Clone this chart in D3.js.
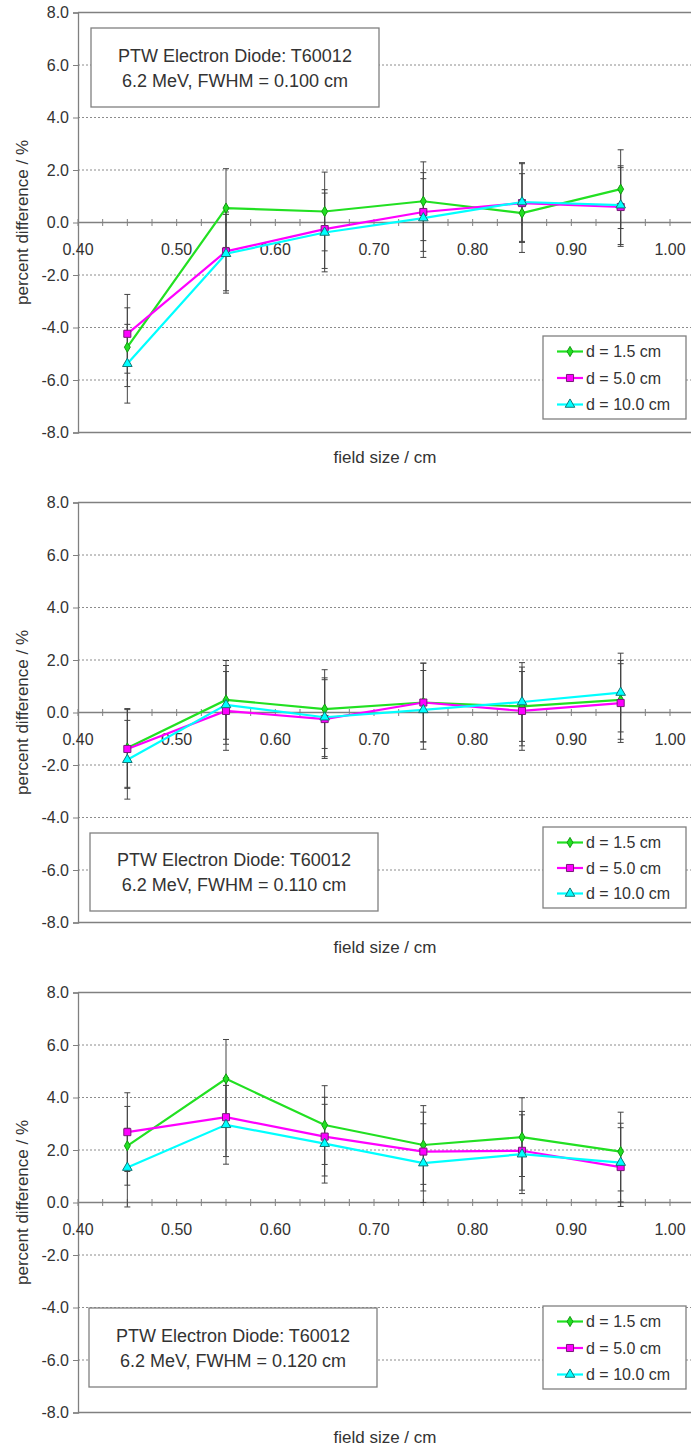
<!DOCTYPE html>
<html>
<head>
<meta charset="utf-8">
<script src="https://cdn.jsdelivr.net/npm/d3@7"></script>
<style>
  body { margin: 0; background: #fff; }
  svg { display: block; font-family: "Liberation Sans", Arial, sans-serif; }
</style>
</head>
<body>
<div id="chart"></div>
<script>
// field sizes (x) shared by every panel
var fieldSizes = [0.45, 0.55, 0.65, 0.75, 0.85, 0.95];
var xTickLabels = [0.40, 0.50, 0.60, 0.70, 0.80, 0.90, 1.00];
var yTickLabels = [-8, -6, -4, -2, 0, 2, 4, 6, 8];
var seriesNames = ["d = 1.5 cm", "d = 5.0 cm", "d = 10.0 cm"];
var fwhmValues = ["0.100", "0.110", "0.120"];

// panel 1 : FWHM = 0.100 cm
var p1_d15 = [-4.75, 0.55, 0.42, 0.81, 0.36, 1.27];
var p1_d50 = [-4.24, -1.10, -0.25, 0.40, 0.74, 0.59];
var p1_d100 = [-5.38, -1.19, -0.38, 0.17, 0.78, 0.66];
// panel 2 : FWHM = 0.110 cm
var p2_d15 = [-1.35, 0.48, 0.13, 0.38, 0.23, 0.48];
var p2_d50 = [-1.39, 0.06, -0.25, 0.38, 0.06, 0.36];
var p2_d100 = [-1.80, 0.29, -0.18, 0.10, 0.40, 0.76];
// panel 3 : FWHM = 0.120 cm
var p3_d15 = [2.16, 4.71, 2.95, 2.19, 2.49, 1.94];
var p3_d50 = [2.68, 3.25, 2.51, 1.94, 1.97, 1.35];
var p3_d100 = [1.33, 2.96, 2.24, 1.50, 1.84, 1.52];
// error bar half widths (same read for every point)
var errD15 = [1.5, 1.5, 1.5, 1.5, 1.5, 1.5];
var errD50 = [1.5, 1.5, 1.5, 1.5, 1.5, 1.5];
var errD100 = [1.5, 1.5, 1.5, 1.5, 1.5, 1.5];

var panelValues = [
    [p1_d15, p1_d50, p1_d100],
    [p2_d15, p2_d50, p2_d100],
    [p3_d15, p3_d50, p3_d100]
];
var panelErrors = [errD15, errD50, errD100];

// look of each series
var seriesStyle = [
    {line: "#22e022", fill: "#22e022", stroke: "#119911", shape: d3.symbolDiamond, size: 30},
    {line: "#ff00ff", fill: "#ff00ff", stroke: "#7a1a7a", shape: d3.symbolSquare, size: 50},
    {line: "#00ffff", fill: "#00ffff", stroke: "#117777", shape: d3.symbolTriangle, size: 40}
];

// where the note box and the legend sit in each panel (panel-local px)
var panelLayout = [
    {note: {x: 91, y: 28, w: 288, h: 79}, legend: {x: 543, y: 336, w: 143, h: 83}},
    {note: {x: 90, y: 343, w: 288, h: 78}, legend: {x: 543, y: 337, w: 143, h: 81}},
    {note: {x: 89, y: 328, w: 288, h: 79}, legend: {x: 543, y: 326, w: 143, h: 83}}
];

var W = 691, H = 1447, panelStep = 490;
var plotLeft = 78, plotTop = 12.5, plotBottom = 432.5;
var textColor = "#333", axisColor = "#808080";

var svg = d3.select("#chart").append("svg")
    .attr("width", W).attr("height", H);

var x = d3.scaleLinear().domain([0.4, 1.0]).range([plotLeft, 670]);
var y = d3.scaleLinear().domain([-8, 8]).range([plotBottom, plotTop]);

panelValues.forEach(function(series, pi)
{
    var g = svg.append("g").attr("transform", "translate(0," + (pi * panelStep) + ")");
    var lay = panelLayout[pi];

    // dotted grid lines
    g.append("g").selectAll("line")
        .data([-6, -4, -2, 2, 4, 6])
        .enter().append("line")
        .attr("x1", plotLeft).attr("x2", W)
        .attr("y1", function(d) { return y(d); })
        .attr("y2", function(d) { return y(d); })
        .attr("stroke", "#8c8c8c")
        .attr("stroke-width", 1)
        .attr("stroke-dasharray", "2,2");

    // frame: top and bottom
    g.append("line").attr("x1", plotLeft).attr("x2", W).attr("y1", y(8)).attr("y2", y(8))
        .attr("stroke", axisColor).attr("stroke-width", 1.3);
    g.append("line").attr("x1", plotLeft).attr("x2", W).attr("y1", y(-8)).attr("y2", y(-8))
        .attr("stroke", axisColor).attr("stroke-width", 1.3);

    // y axis (plain hyphen for negatives, like the original)
    var yAxis = d3.axisLeft(y).tickValues(yTickLabels).tickSize(5).tickPadding(4)
        .tickFormat(function(d) { return d.toFixed(1); });
    var ya = g.append("g").attr("transform", "translate(" + plotLeft + ",0)").call(yAxis);
    ya.select(".domain").attr("stroke", axisColor).attr("stroke-width", 1.3);
    ya.selectAll(".tick line").attr("stroke", axisColor);
    ya.selectAll(".tick text").attr("fill", textColor).style("font-size", "16px")
        .attr("font-family", "Liberation Sans, Arial, sans-serif");

    // x axis sits on zero, ticks cross the line
    g.append("line").attr("x1", plotLeft).attr("x2", W).attr("y1", y(0)).attr("y2", y(0))
        .attr("stroke", axisColor).attr("stroke-width", 1.3);
    g.append("g").selectAll("line")
        .data(d3.range(0, 25).map(function(i) { return 0.4 + i * 0.025; }))
        .enter().append("line")
        .attr("x1", function(d) { return x(d); })
        .attr("x2", function(d) { return x(d); })
        .attr("y1", y(0) - 3.5).attr("y2", y(0) + 3.5)
        .attr("stroke", axisColor);
    g.append("g").selectAll("text")
        .data(xTickLabels)
        .enter().append("text")
        .attr("x", function(d) { return x(d); })
        .attr("y", y(0) + 32)
        .attr("text-anchor", "middle")
        .attr("fill", textColor)
        .style("font-size", "16px")
        .text(function(d) { return d.toFixed(2); });

    // axis titles
    g.append("text")
        .attr("transform", "translate(22," + ((plotTop + plotBottom) / 2) + ") rotate(-90)")
        .attr("text-anchor", "middle").attr("dy", "0.35em")
        .attr("fill", textColor).style("font-size", "17px")
        .text("percent difference / %");
    g.append("text")
        .attr("x", 385).attr("y", 463)
        .attr("text-anchor", "middle")
        .attr("fill", textColor).style("font-size", "17px")
        .text("field size / cm");

    // note box
    var nb = lay.note;
    g.append("rect").attr("x", nb.x).attr("y", nb.y).attr("width", nb.w).attr("height", nb.h)
        .attr("fill", "#fff").attr("stroke", axisColor).attr("stroke-width", 1.3);
    g.append("text").attr("x", nb.x + nb.w / 2).attr("y", nb.y + nb.h / 2 - 6)
        .attr("text-anchor", "middle").attr("fill", textColor).style("font-size", "18px")
        .text("PTW Electron Diode: T60012");
    g.append("text").attr("x", nb.x + nb.w / 2).attr("y", nb.y + nb.h / 2 + 19)
        .attr("text-anchor", "middle").attr("fill", textColor).style("font-size", "18px")
        .text("6.2 MeV, FWHM = " + fwhmValues[pi] + " cm");

    // error bars first, then series on top
    series.forEach(function(vals, si)
    {
        var errs = panelErrors[si];
        var eb = g.append("g").selectAll("g")
            .data(vals.map(function(v, i) { return {x: fieldSizes[i], v: v, e: errs[i]}; }))
            .enter().append("g")
            .attr("stroke", "#444").attr("stroke-width", 1);
        eb.append("line")
            .attr("x1", function(d) { return x(d.x); }).attr("x2", function(d) { return x(d.x); })
            .attr("y1", function(d) { return y(d.v + d.e); })
            .attr("y2", function(d) { return y(d.v - d.e); });
        eb.append("line")
            .attr("x1", function(d) { return x(d.x) - 3; }).attr("x2", function(d) { return x(d.x) + 3; })
            .attr("y1", function(d) { return y(d.v + d.e); }).attr("y2", function(d) { return y(d.v + d.e); });
        eb.append("line")
            .attr("x1", function(d) { return x(d.x) - 3; }).attr("x2", function(d) { return x(d.x) + 3; })
            .attr("y1", function(d) { return y(d.v - d.e); }).attr("y2", function(d) { return y(d.v - d.e); });
    });

    series.forEach(function(vals, si)
    {
        var st = seriesStyle[si];
        var line = d3.line()
            .x(function(d, i) { return x(fieldSizes[i]); })
            .y(function(d) { return y(d); });
        g.append("path").datum(vals)
            .attr("d", line)
            .attr("fill", "none")
            .attr("stroke", st.line)
            .attr("stroke-width", 2.2);
        g.append("g").selectAll("path")
            .data(vals)
            .enter().append("path")
            .attr("transform", function(d, i) { return "translate(" + x(fieldSizes[i]) + "," + y(d) + ")"; })
            .attr("d", d3.symbol().type(st.shape).size(st.size))
            .attr("fill", st.fill)
            .attr("stroke", st.stroke)
            .attr("stroke-width", 1);
    });

    // legend
    var lb = lay.legend;
    g.append("rect").attr("x", lb.x).attr("y", lb.y).attr("width", lb.w).attr("height", lb.h)
        .attr("fill", "#fff").attr("stroke", axisColor).attr("stroke-width", 1.3);
    var rowGap = (lb.h - 30) / 2;
    seriesNames.forEach(function(name, si)
    {
        var st = seriesStyle[si];
        var ry = lb.y + 15.5 + si * rowGap;
        g.append("line").attr("x1", lb.x + 14).attr("x2", lb.x + 40)
            .attr("y1", ry).attr("y2", ry)
            .attr("stroke", st.line).attr("stroke-width", 2.2);
        g.append("path")
            .attr("transform", "translate(" + (lb.x + 27) + "," + ry + ")")
            .attr("d", d3.symbol().type(st.shape).size(st.size))
            .attr("fill", st.fill).attr("stroke", st.stroke).attr("stroke-width", 1);
        g.append("text").attr("x", lb.x + 43).attr("y", ry).attr("dy", "0.35em")
            .attr("fill", textColor).style("font-size", "16px")
            .text(name);
    });
});
</script>
</body>
</html>
